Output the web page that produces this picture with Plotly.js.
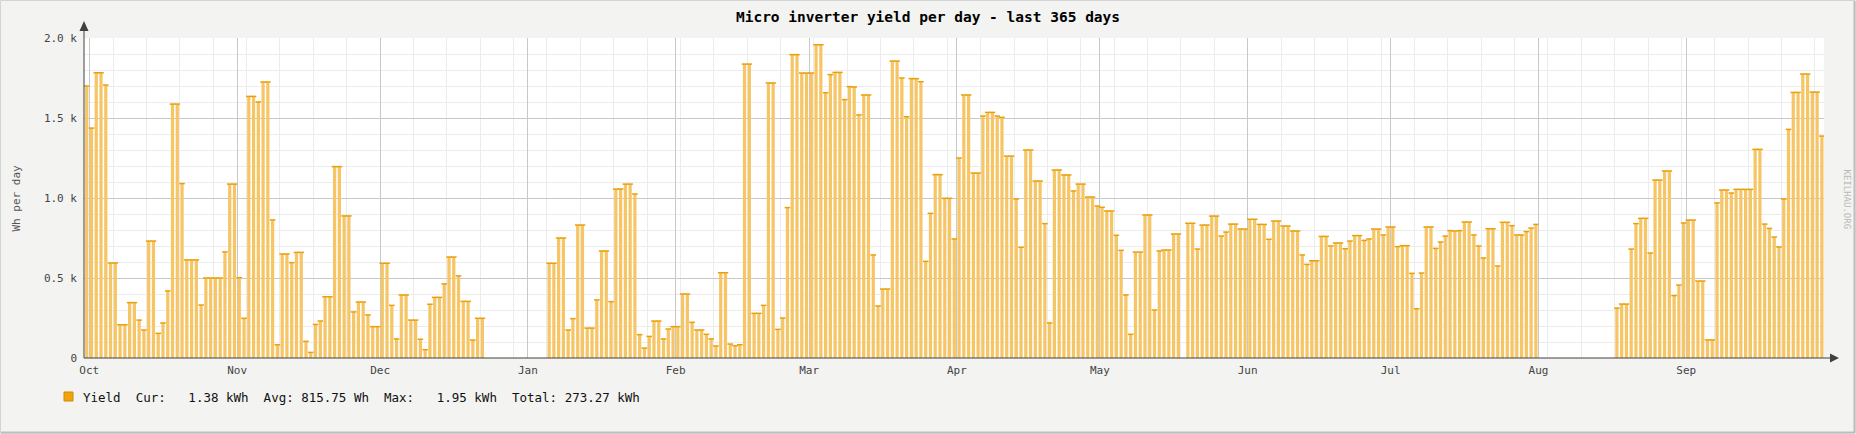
<!DOCTYPE html>
<html>
<head>
<meta charset="utf-8">
<script src="https://cdn.plot.ly/plotly-3.0.1.min.js"></script>
<style>
  html, body { margin: 0; padding: 0; background: #f3f3f1; }
  #chart { width: 1856px; height: 434px; }
</style>
</head>
<body>
<div id="chart"></div>
<script>
// daily yield in Wh, one array per month, null = no data
const sep30 = [1700];
const oct = [1437, 1783, 1783, 1706, 594, 594, 208, 208, 346, 346, 237, 175, 731, 731, 154, 219,
	419, 1587, 1587, 1090, 613, 613, 613, 331, 500, 500, 500, 500, 663, 1087, 1087];
const nov = [502, 248, 1635, 1635, 1600, 1725, 1725, 863, 83, 650, 650, 596, 660, 660, 104, 35,
	210, 231, 383, 383, 1196, 1196, 888, 888, 288, 350, 350, 269, 196, 196];
const dec = [592, 592, 329, 119, 394, 394, 237, 237, 117, 52, 336, 379, 379, 463, 631, 631,
	513, 354, 354, 112, 248, 248, null, null, null, null, null, null, null, null, null];
const jan = [null, null, null, null, 592, 592, 750, 750, 175, 246, 831, 831, 187, 187, 363, 669,
	669, 352, 1056, 1056, 1087, 1087, 1025, 146, 62, 135, 231, 231, 119, 181, 196];
const feb = [196, 400, 400, 223, 175, 175, 148, 119, 75, 533, 533, 87, 77, 83, 1837, 1837,
	279, 279, 329, 1719, 1719, 179, 250, 940, 1896, 1896, 1781, 1781];
const mar = [1781, 1958, 1958, 1658, 1771, 1785, 1785, 1615, 1696, 1694, 1519, 1644, 1644, 644, 325, 431,
	431, 1856, 1856, 1750, 1508, 1746, 1746, 1727, 604, 904, 1146, 1146, 998, 998, 744];
const apr = [1250, 1644, 1644, 1156, 1156, 1512, 1535, 1535, 1512, 1504, 1262, 1262, 994, 692, 1300,
	1300, 1106, 1106, 840, 219, 1175, 1175, 1144, 1144, 1044, 1087, 1087, 1006, 1006, 950];
const may = [942, 919, 919, 767, 673, 394, 148, 662, 662, 894, 894, 300, 669, 675, 675, 775,
	775, null, 842, 842, 681, 831, 831, 887, 887, 762, 787, 837, 837, 806, 806];
const jun = [867, 867, 835, 835, 742, 856, 856, 825, 825, 794, 794, 644, 585, 608, 608, 760,
	760, 700, 719, 719, 683, 731, 765, 765, 735, 744, 806, 806, 769, 819];
const jul = [819, 696, 702, 702, 529, 308, 531, 819, 819, 685, 725, 762, 796, 794, 796, 850,
	850, 769, 700, 625, 808, 808, 575, 848, 848, 827, 769, 769, 790, 812, 835];
const aug = [null, null, null, null, null, null, null, null, null, null, null, null, null, null, null, null,
	312, 337, 337, 681, 840, 873, 873, 656, 1112, 1112, 1169, 1169, 390, 456, 844];
const sep = [862, 862, 481, 481, 113, 113, 969, 1050, 1050, 1031, 1054, 1054, 1054, 1054, 1304,
	1304, 837, 810, 756, 694, 994, 1429, 1660, 1660, 1775, 1775, 1662, 1662, 1387];

const first_day = Date.UTC(2014, 8, 30);
const y_tick_vals = [0, 500, 1000, 1500, 2000];
const y_tick_text = ["0", "0.5 k", "1.0 k", "1.5 k", "2.0 k"];
const legend_text = "Yield  Cur:   1.38 kWh  Avg: 815.75 Wh  Max:   1.95 kWh  Total: 273.27 kWh";

const yields = [].concat(sep30, oct, nov, dec, jan, feb, mar, apr, may, jun, jul, aug, sep);
const days = yields.map((v, i) => {
	const d = new Date(first_day + i * 86400000);
	return d.toISOString().slice(0, 10) + " 11:00";
});

// plot box in pixels
const L = 84, T = 38, R = 1824, B = 358;
const px = (x) => (x - L) / (R - L);
const py = (y) => (B - y) / (B - T);
const MONO = "DejaVu Sans Mono";
const AXIS = "#404040";

const bars = {
	type: "bar",
	x: days,
	y: yields,
	width: 0.68 * 86400000,
	marker: { color: "#f6c666", line: { width: 0 } },
	hoverinfo: "x+y",
};
const caps = {
	type: "scatter",
	mode: "markers",
	x: days,
	y: yields,
	marker: {
		symbol: "line-ew",
		size: 4,
		color: "#e9a00c",
		line: { width: 1.5, color: "#e9a00c" },
	},
	hoverinfo: "skip",
};

const layout = {
	width: 1856,
	height: 434,
	margin: { l: L, r: 1856 - R, t: T, b: 434 - B, pad: 0 },
	paper_bgcolor: "#f3f3f1",
	plot_bgcolor: "#ffffff",
	showlegend: false,
	title: {
		text: "Micro inverter yield per day - last 365 days",
		font: { family: MONO, size: 14.5, color: "#000", weight: "bold" },
		xref: "container",
		x: 0.5,
		yref: "container",
		y: 1 - 16.5 / 434,
		yanchor: "middle",
	},
	xaxis: {
		type: "date",
		range: ["2014-09-29 21:20", "2015-09-29 21:40"],
		tickmode: "linear",
		tick0: "2014-10-01",
		dtick: "M1",
		tickformat: "%b",
		ticks: "",
		ticklabelstandoff: 4,
		tickfont: { family: MONO, size: 11, color: "#444" },
		showgrid: true,
		gridcolor: "#c8c8c8",
		gridwidth: 1,
		zeroline: false,
		showline: false,
		minor: {
			tickmode: "linear",
			tick0: "2014-10-06",
			dtick: 7 * 86400000,
			showgrid: true,
			gridcolor: "#ececec",
			gridwidth: 1,
			ticks: "",
		},
		fixedrange: true,
	},
	yaxis: {
		range: [0, 2000],
		tickmode: "array",
		tickvals: y_tick_vals,
		ticktext: y_tick_text,
		ticks: "",
		ticklabelstandoff: 6,
		tickfont: { family: MONO, size: 11, color: "#444" },
		showgrid: true,
		gridcolor: "#c8c8c8",
		gridwidth: 1,
		zeroline: false,
		showline: false,
		minor: {
			tickmode: "linear",
			tick0: 0,
			dtick: 100,
			showgrid: true,
			gridcolor: "#ececec",
			gridwidth: 1,
			ticks: "",
		},
		fixedrange: true,
	},
	shapes: [
		// axes with arrow heads
		{ type: "line", xref: "paper", yref: "paper", x0: px(84), x1: px(84), y0: py(358), y1: py(28),
			line: { color: AXIS, width: 1 }, layer: "above" },
		{ type: "path", xref: "paper", yref: "paper",
			path: `M${px(84)},${py(21)} L${px(79.5)},${py(31)} L${px(88.5)},${py(31)} Z`,
			fillcolor: AXIS, line: { width: 0 }, layer: "above" },
		{ type: "line", xref: "paper", yref: "paper", x0: px(84), x1: px(1831), y0: py(358), y1: py(358),
			line: { color: AXIS, width: 1 }, layer: "above" },
		{ type: "path", xref: "paper", yref: "paper",
			path: `M${px(1839)},${py(358)} L${px(1830)},${py(353.5)} L${px(1830)},${py(362.5)} Z`,
			fillcolor: AXIS, line: { width: 0 }, layer: "above" },
		// legend swatch
		{ type: "rect", xref: "paper", yref: "paper", x0: px(64), x1: px(73), y0: py(401), y1: py(392),
			fillcolor: "#f0a30a", line: { color: "#d08a00", width: 1 } },
		// frame
		{ type: "rect", xref: "paper", yref: "paper", x0: px(0.5), x1: px(1855), y0: py(433), y1: py(0.5),
			line: { color: "#d4d4d4", width: 1 } },
		{ type: "line", xref: "paper", yref: "paper", x0: px(1854.5), x1: px(1854.5), y0: py(433), y1: py(1),
			line: { color: "#bdbdbd", width: 2 } },
		{ type: "line", xref: "paper", yref: "paper", x0: px(1), x1: px(1855), y0: py(432.5), y1: py(432.5),
			line: { color: "#bdbdbd", width: 2 } },
	],
	annotations: [
		{ text: "Wh per day", xref: "paper", yref: "paper", x: px(15.5), y: py(198), textangle: -90,
			xanchor: "center", yanchor: "middle", showarrow: false,
			font: { family: MONO, size: 11, color: "#555" } },
		{ text: legend_text.replace(/ /g, "\u00a0"), xref: "paper", yref: "paper", x: px(81), y: py(397),
			xanchor: "left", yanchor: "middle", showarrow: false,
			font: { family: MONO, size: 12.5, color: "#111" } },
		{ text: "KEILHAU.ORG", xref: "paper", yref: "paper", x: px(1846.5), y: py(199), textangle: 90,
			xanchor: "center", yanchor: "middle", showarrow: false,
			font: { family: MONO, size: 9, color: "#b8b8b8" } },
	],
};

Plotly.newPlot("chart", [bars, caps], layout, { displayModeBar: false, staticPlot: true });
</script>
</body>
</html>
